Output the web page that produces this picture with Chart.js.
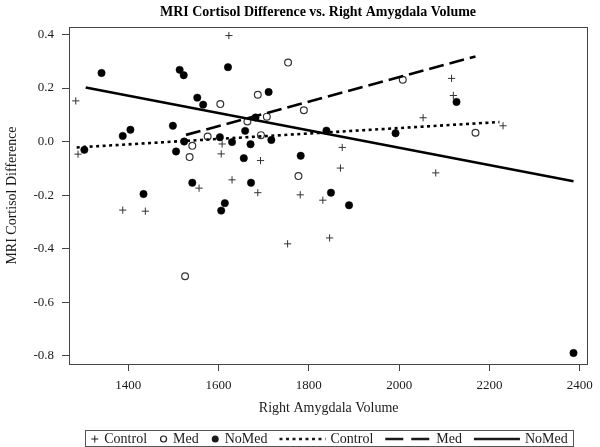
<!DOCTYPE html>
<html><head><meta charset="utf-8">
<script src="https://cdn.jsdelivr.net/npm/chart.js@4.4.0/dist/chart.umd.min.js"></script>
<style>html,body{margin:0;padding:0;background:#fff}canvas{display:block}</style>
</head><body>
<canvas id="c" width="600" height="447"></canvas>
<script>
// ---- data ----
const controlX = [1623,1284,1289,1608,1606,1557,1630,1388,1438,1874,1693,1870,1687,1781,1831,1753,1846,2116,2120,2053,2230,2081];
const controlY = [0.396,0.152,-0.047,-0.009,-0.046,-0.174,-0.143,-0.256,-0.260,-0.022,-0.071,-0.099,-0.191,-0.199,-0.219,-0.382,-0.360,0.236,0.172,0.089,0.059,-0.117];
const medX = [1604,1576,1542,1536,1526,1754,1687,1789,1664,1707,1694,1777,2008,2169];
const medY = [0.140,0.019,-0.016,-0.058,-0.503,0.295,0.175,0.117,0.075,0.093,0.024,-0.129,0.231,0.033];
const noMedX = [1341,1514,1523,1621,1553,1566,1388,1405,1499,1303,1524,1603,1630,1506,1542,1434,1606,1614,1711,1682,1659,1839,1992,1671,1717,1656,1782,1672,1849,1889,2127,2386];
const noMedY = [0.256,0.268,0.248,0.278,0.164,0.138,0.021,0.044,0.059,-0.031,0.000,0.016,-0.002,-0.037,-0.154,-0.196,-0.258,-0.230,0.185,0.090,0.040,0.041,0.031,-0.010,0.006,-0.062,-0.053,-0.154,-0.191,-0.238,0.148,-0.790];
// fitted regression lines (end points)
const controlFitX = [1286,2222];
const controlFitY = [-0.022,0.073];
const medFitX = [1528,2169];
const medFitY = [0.025,0.318];
const noMedFitX = [1306,2386];
const noMedFitY = [0.202,-0.148];
// axes
const xTicks = [1400,1600,1800,2000,2200,2400];
const yTicks = [-0.8,-0.6,-0.4,-0.2,0.0,0.2,0.4];
const xRange = [1269,2419];
const yRange = [-0.831,0.428];
const titleText = 'MRI Cortisol Difference vs. Right Amygdala Volume';
const xTitle = 'Right Amygdala Volume';
const yTitle = 'MRI Cortisol Difference';
const legendItems = [
  {kind:'cross', label:'Control'},
  {kind:'open', label:'Med'},
  {kind:'dot', label:'NoMed'},
  {kind:'dotted', label:'Control'},
  {kind:'dashed', label:'Med'},
  {kind:'solid', label:'NoMed'}
];

const pts = (xs, ys) => xs.map((x, i) => ({x, y: ys[i]}));
const SERIF = '"Liberation Serif", "DejaVu Serif", serif';
const INK = '#1a1a1a';

const titleShift = {
  id: 'titleShift',
  afterLayout(chart) {
    const t = chart.titleBlock;
    if (t) { t.left = 36; t.right = 600; }
  }
};

const framePlugin = {
  id: 'frame',
  afterDraw(chart) {
    const {ctx, chartArea: a} = chart;
    ctx.save();
    ctx.strokeStyle = '#444';
    ctx.lineWidth = 1;
    ctx.strokeRect(Math.round(a.left) + 0.5, Math.round(a.top) + 0.5, Math.round(a.right - a.left) - 1, Math.round(a.bottom - a.top));
    ctx.restore();
  }
};

const legendPlugin = {
  id: 'boxLegend',
  afterDraw(chart) {
    const ctx = chart.ctx;
    ctx.save();
    ctx.font = '14px ' + SERIF;
    ctx.textBaseline = 'middle';
    const cy = 439;
    const ptW = 9, lnW = 46, gapSym = 5, gapItem = 12;
    let total = 0;
    const widths = legendItems.map(it => {
      const sw = (it.kind === 'cross' || it.kind === 'open' || it.kind === 'dot') ? ptW : lnW;
      const tw = ctx.measureText(it.label).width;
      return {sw, tw};
    });
    widths.forEach((w, i) => { total += w.sw + gapSym + w.tw + (i < widths.length - 1 ? gapItem : 0); });
    const boxL = 85, boxR = 573;
    let x = (boxL + boxR) / 2 - total / 2;
    ctx.strokeStyle = '#555';
    ctx.lineWidth = 1;
    ctx.strokeRect(boxL + 0.5, 430.5, boxR - boxL, 16);
    legendItems.forEach((it, i) => {
      const {sw, tw} = widths[i];
      const sx = x + sw / 2;
      ctx.save();
      ctx.strokeStyle = INK; ctx.fillStyle = INK;
      if (it.kind === 'cross') {
        ctx.lineWidth = 1;
        ctx.beginPath();
        ctx.moveTo(sx - 3.5, cy); ctx.lineTo(sx + 3.5, cy);
        ctx.moveTo(sx, cy - 3.5); ctx.lineTo(sx, cy + 3.5);
        ctx.stroke();
      } else if (it.kind === 'open') {
        ctx.lineWidth = 1.2;
        ctx.beginPath(); ctx.arc(sx, cy, 3, 0, Math.PI * 2); ctx.stroke();
      } else if (it.kind === 'dot') {
        ctx.beginPath(); ctx.arc(sx, cy, 3.5, 0, Math.PI * 2); ctx.fill();
      } else {
        ctx.lineWidth = 2.6;
        if (it.kind === 'dotted') ctx.setLineDash([3, 3.5]);
        if (it.kind === 'dashed') ctx.setLineDash([18, 8]);
        ctx.beginPath(); ctx.moveTo(x, cy); ctx.lineTo(x + sw, cy); ctx.stroke();
      }
      ctx.restore();
      ctx.fillStyle = INK;
      ctx.fillText(it.label, x + sw + gapSym, cy + 0.5);
      x += sw + gapSym + tw + gapItem;
    });
    ctx.restore();
  }
};

Chart.defaults.font.family = SERIF;
Chart.defaults.color = INK;

new Chart(document.getElementById('c'), {
  type: 'scatter',
  data: {
    datasets: [
      {label:'Control', data: pts(controlX, controlY), pointStyle:'cross', pointRadius:3.6, borderColor:'#333', borderWidth:1, backgroundColor:'#333', order:2},
      {label:'Med', data: pts(medX, medY), pointStyle:'circle', pointRadius:3.4, borderColor:'#333', borderWidth:1.2, backgroundColor:'#fff', order:2},
      {label:'NoMed', data: pts(noMedX, noMedY), pointStyle:'circle', pointRadius:3.7, borderColor:'#000', borderWidth:0.5, backgroundColor:'#000', order:2},
      {type:'line', label:'Control fit', data: pts(controlFitX, controlFitY), borderColor:'#000', borderWidth:2.6, borderDash:[3,3.5], pointRadius:0, showLine:true, fill:false, order:1},
      {type:'line', label:'Med fit', data: pts(medFitX, medFitY), borderColor:'#000', borderWidth:2.6, borderDash:[15,6], pointRadius:0, showLine:true, fill:false, order:1},
      {type:'line', label:'NoMed fit', data: pts(noMedFitX, noMedFitY), borderColor:'#000', borderWidth:2.6, pointRadius:0, showLine:true, fill:false, order:1}
    ]
  },
  options: {
    responsive: false,
    animation: false,
    layout: {padding: {left: 0, right: 11, top: 0, bottom: 30}},
    plugins: {
      legend: {display: false},
      tooltip: {enabled: false},
      title: {display: true, text: titleText, color: '#000', font: {size: 14, weight: 'bold', family: SERIF}, padding: {top: 4, bottom: 6.2}}
    },
    scales: {
      x: {
        type: 'linear', min: xRange[0], max: xRange[1],
        afterBuildTicks: s => { s.ticks = xTicks.map(v => ({value: v})); },
        afterFit: s => { s.height = 53; },
        grid: {display: true, drawOnChartArea: false, drawTicks: true, tickLength: 7, tickColor: '#444', color: '#444'},
        border: {display: false},
        ticks: {font: {size: 13, family: SERIF}, color: INK, padding: 7, maxRotation: 0, callback: v => String(v)},
        title: {display: true, text: xTitle, font: {size: 14, family: SERIF}, color: INK, padding: {top: 0, bottom: 0}}
      },
      y: {
        type: 'linear', min: yRange[0], max: yRange[1],
        afterBuildTicks: s => { s.ticks = yTicks.map(v => ({value: v})); },
        afterFit: s => { s.width = 69; },
        grid: {display: true, drawOnChartArea: false, drawTicks: true, tickLength: 7, tickColor: '#444', color: '#444'},
        border: {display: false},
        ticks: {font: {size: 13, family: SERIF}, color: INK, padding: 8, callback: v => (Math.abs(v) < 1e-9 ? 0 : v).toFixed(1)},
        title: {display: true, text: yTitle, font: {size: 14, family: SERIF}, color: INK, padding: {top: 4, bottom: 0}}
      }
    }
  },
  plugins: [titleShift, framePlugin, legendPlugin]
});
</script>
</body></html>
